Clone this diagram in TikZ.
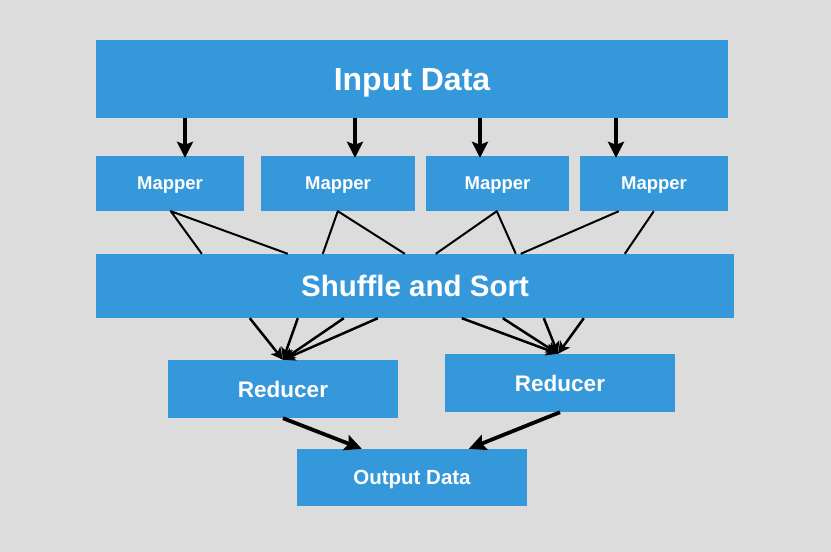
\documentclass[tikz,border=0pt]{standalone}
\usepackage{fontspec}
\setmainfont{Liberation Sans}
\usetikzlibrary{arrows.meta}
\definecolor{boxblue}{HTML}{3598DB}
\definecolor{bggray}{HTML}{DCDCDC}
\begin{document}
\begin{tikzpicture}[x=1pt, y=-1pt, line join=round, >={Stealth},
	box/.style={fill=boxblue, text=white, font=\bfseries, inner sep=0pt, text depth=0pt},
	bigarrow/.style={line width=3.8pt, -{Stealth[length=16pt,width=16pt,inset=3pt]}},
	thinline/.style={line width=2pt},
	midarrow/.style={line width=2.5pt, -{Stealth[length=12pt,width=12pt,inset=3pt]}},
	outarrow/.style={line width=3.8pt, -{Stealth[length=17pt,width=16pt,inset=3pt]}}]
	\fill[bggray] (0,0) rectangle (831,552);
	\useasboundingbox (0,0) rectangle (831,552);
	% boxes
	\node[box, minimum width=632pt, minimum height=78pt, font=\bfseries\fontsize{32}{38}\selectfont] (input) at (412,79) {Input Data};
	\node[box, minimum width=148pt, minimum height=55pt, font=\bfseries\fontsize{18.5}{22}\selectfont] (map1) at (170,183.5) {Mapper};
	\node[box, minimum width=154pt, minimum height=55pt, font=\bfseries\fontsize{18.5}{22}\selectfont] (map2) at (338,183.5) {Mapper};
	\node[box, minimum width=143pt, minimum height=55pt, font=\bfseries\fontsize{18.5}{22}\selectfont] (map3) at (497.5,183.5) {Mapper};
	\node[box, minimum width=148pt, minimum height=55pt, font=\bfseries\fontsize{18.5}{22}\selectfont] (map4) at (654,183.5) {Mapper};
	\node[box, minimum width=638pt, minimum height=64pt, font=\bfseries\fontsize{29.5}{34}\selectfont] (shuffle) at (415,286) {Shuffle and Sort};
	\node[box, minimum width=230pt, minimum height=58pt, font=\bfseries\fontsize{22.5}{26}\selectfont] (red1) at (283,389) {Reducer};
	\node[box, minimum width=230pt, minimum height=58pt, font=\bfseries\fontsize{22.5}{26}\selectfont] (red2) at (560,383) {Reducer};
	\node[box, minimum width=230pt, minimum height=57pt, font=\bfseries\fontsize{20.5}{24}\selectfont] (output) at (412,477.5) {Output Data};
	% input to mappers
	\draw[bigarrow] ([xshift=15]map1.north |- input.south) -- ([xshift=15,yshift=-2]map1.north);
	\draw[bigarrow] ([xshift=17]map2.north |- input.south) -- ([xshift=17,yshift=-2]map2.north);
	\draw[bigarrow] ([xshift=-17.5]map3.north |- input.south) -- ([xshift=-17.5,yshift=-2]map3.north);
	\draw[bigarrow] ([xshift=-38]map4.north |- input.south) -- ([xshift=-38,yshift=-2]map4.north);
	% mappers to shuffle
	\draw[thinline] ([xshift=106]shuffle.north west) -- ([xshift=75]map1.south west) -- ([xshift=192]shuffle.north west);
	\draw[thinline] ([xshift=227]shuffle.north west) -- ([xshift=77]map2.south west) -- ([xshift=309]shuffle.north west);
	\draw[thinline] ([xshift=340]shuffle.north west) -- ([xshift=71]map3.south west) -- ([xshift=420]shuffle.north west);
	\draw[thinline] ([xshift=39]map4.south west) -- ([xshift=425]shuffle.north west);
	\draw[thinline] ([xshift=74]map4.south west) -- ([xshift=529]shuffle.north west);
	% shuffle to reducers
	\foreach \dx in {154,202,248,282}
		\draw[midarrow] ([xshift=\dx]shuffle.south west) -- (red1.north);
	\foreach \dx in {366,407,448,488}
		\draw[midarrow] ([xshift=\dx]shuffle.south west) -- ([xshift=-2]red2.north);
	% reducers to output
	\draw[outarrow] (red1.south) -- ([xshift=65]output.north west);
	\draw[outarrow] (red2.south) -- ([xshift=172]output.north west);
\end{tikzpicture}
\end{document}
